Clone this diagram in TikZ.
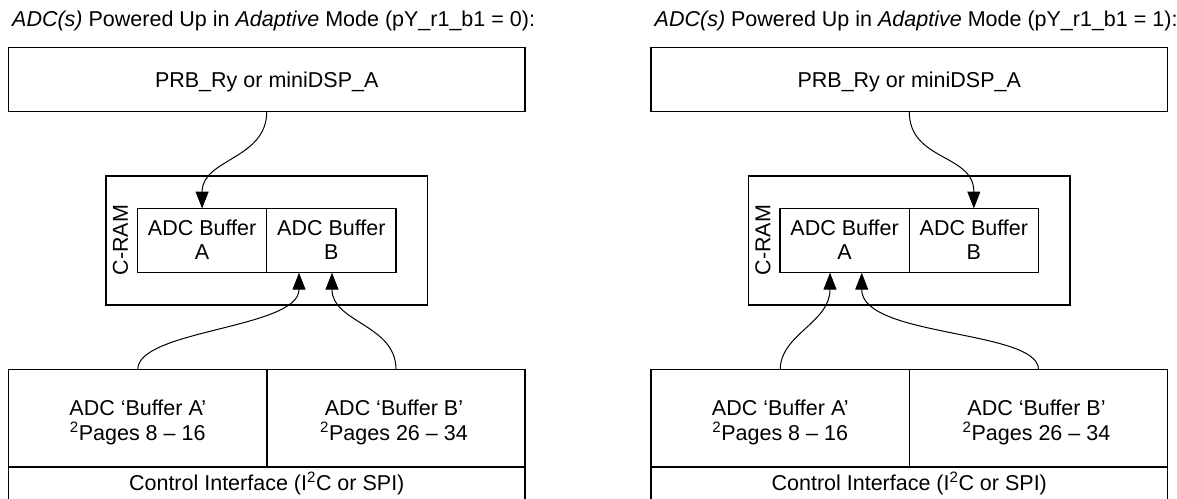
\documentclass[tikz,border=0pt]{standalone}
\usepackage{fontspec}
\setmainfont{Liberation Sans}
\usetikzlibrary{arrows.meta}
\begin{document}
\begin{tikzpicture}[x=1pt,y=-1pt,
  font=\fontsize{21.5}{24}\selectfont,
  box/.style={draw, line width=1.1pt, inner sep=0pt, outer sep=0pt},
  txt/.style={inner sep=0pt, outer sep=0pt, anchor=base},
  arr/.style={line width=1pt, -{Triangle[length=17pt,width=13pt]}}]
\fill[white] (0,0) rectangle (1177,498);
\useasboundingbox (0,0) rectangle (1177,498);
\foreach \p/\dx/\n in {L/0/0, R/642.5/1} {
  \node[anchor=base west, inner sep=0pt] (\p-title) at (12+\dx,26)
    {\textit{ADC(s)} Powered Up in \textit{Adaptive} Mode (pY\_r1\_b1 = \n):};
  \node[box, minimum width=516.5pt, minimum height=64pt] (\p-top) at (266.75+\dx,79.5) {};
  \node[txt] (\p-toptxt) at (266.75+\dx,87.5) {PRB\_Ry or miniDSP\_A};
  \node[box, minimum width=321.5pt, minimum height=129pt] (\p-cram) at (266.75+\dx,240.5) {};
  \node[rotate=90, inner sep=0pt, text height=15.6pt, text depth=0pt] (\p-cramtxt) at (120+\dx,240) {C-RAM};
  \node[box, minimum width=129.2pt, minimum height=64.2pt] (\p-bufA) at (202.1+\dx,240.6) {};
  \node[box, minimum width=129.3pt, minimum height=64.2pt] (\p-bufB) at (331.35+\dx,240.6) {};
  \node[txt] (\p-bufAtxt) at (202.1+\dx,235) {\begin{tabular}[t]{@{}c@{}}ADC Buffer\\A\end{tabular}};
  \node[txt] (\p-bufBtxt) at (331.35+\dx,235) {\begin{tabular}[t]{@{}c@{}}ADC Buffer\\B\end{tabular}};
  \node[box, minimum width=258.5pt, minimum height=97.5pt] (\p-botA) at (137.75+\dx,418.25) {};
  \node[box, minimum width=258pt, minimum height=97.5pt] (\p-botB) at (396+\dx,418.25) {};
  \node[box, minimum width=516.5pt, minimum height=33pt] (\p-ctrl) at (266.75+\dx,483.5) {};
  \node[txt] (\p-botAtxt) at (137.75+\dx,415) {\begin{tabular}[t]{@{}c@{}}ADC ‘Buffer A’\\\textsuperscript{2}Pages 8 – 16\end{tabular}};
  \node[txt] (\p-botBtxt) at (394+\dx,415) {\begin{tabular}[t]{@{}c@{}}ADC ‘Buffer B’\\\textsuperscript{2}Pages 26 – 34\end{tabular}};
  \node[txt] (\p-ctrltxt) at (266.75+\dx,490) {Control Interface (I\textsuperscript{2}C or SPI)};
}
% left panel connectors
\draw[arr] (L-top.south) .. controls +(0,48) and +(0,-50) .. (L-bufA.north);
\draw[arr] (L-botA.north) .. controls +(0,-40) and +(0,56) .. ([xshift=-32.35pt]L-bufB.south);
\draw[arr] (L-botB.north) .. controls +(0,-45) and +(0,50) .. ([xshift=0.65pt]L-bufB.south);
% right panel connectors
\draw[arr] (R-top.south) .. controls +(0,50) and +(0,-55) .. (R-bufB.north);
\draw[arr] (R-botA.north) .. controls +(0,-35) and +(0,50) .. ([xshift=-14.6pt]R-bufA.south);
\draw[arr] (R-botB.north) .. controls +(0,-40) and +(0,65) .. ([xshift=17.1pt]R-bufA.south);
\end{tikzpicture}
\end{document}
